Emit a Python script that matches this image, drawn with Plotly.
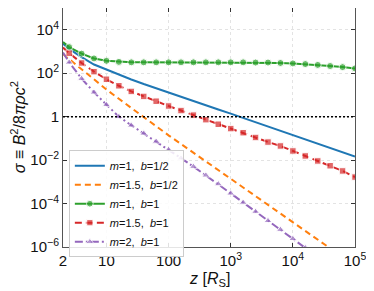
import plotly.graph_objects as go

# exponents (log10) of z in units of R_S
log_z = [0.301, 0.4, 0.6, 0.8, 1.0, 1.2, 1.4, 1.6, 1.8, 2.0, 2.2, 2.4, 2.6, 2.8,
         3.0, 3.2, 3.4, 3.6, 3.8, 4.0, 4.2, 4.4, 4.6, 4.8, 5.0]

# log10(sigma)
m1_b05 = [3.36, 3.12, 2.74, 2.40, 2.17, 1.93, 1.71, 1.50, 1.30, 1.10, 0.91, 0.72, 0.53, 0.33,
          0.14, -0.06, -0.26, -0.45, -0.65, -0.85, -1.05, -1.25, -1.45, -1.64, -1.84]
m15_b05 = [2.88, 2.65, 2.18, 1.70, 1.25, 0.82, 0.39, -0.04, -0.45, -0.86, -1.26, -1.66, -2.06, -2.46,
           -2.86, -3.26, -3.66, -4.06, -4.46, -4.86, -5.26, -5.66, -6.06, -6.46, -6.86]
m1_b1 = [3.44, 3.20, 2.90, 2.68, 2.57, 2.52, 2.50, 2.50, 2.50, 2.50, 2.50, 2.50, 2.50, 2.50,
         2.50, 2.50, 2.49, 2.49, 2.47, 2.45, 2.42, 2.38, 2.33, 2.28, 2.22]
m15_b1 = [3.18, 2.92, 2.47, 2.07, 1.72, 1.42, 1.16, 0.93, 0.71, 0.49, 0.28, 0.07, -0.14, -0.35,
          -0.55, -0.74, -0.96, -1.17, -1.35, -1.58, -1.81, -2.04, -2.26, -2.50, -2.78]
m2_b1 = [2.95, 2.50, 1.75, 1.12, 0.55, 0.00, -0.40, -0.77, -1.14, -1.52, -1.91, -2.30, -2.70, -3.10,
         -3.53, -3.95, -4.37, -4.79, -5.20, -5.62, -6.04, -6.46, -6.88, -7.30, -7.72]

names = ["<i>m</i>=1,  <i>b</i>=1/2", "<i>m</i>=1.5,  <i>b</i>=1/2", "<i>m</i>=1,  <i>b</i>=1",
         "<i>m</i>=1.5,  <i>b</i>=1", "<i>m</i>=2,  <i>b</i>=1"]

x_tickvals = [2, 10, 100, 1e3, 1e4, 1e5]
x_ticktext = ["2", "10", "100", "10<sup>3</sup>", "10<sup>4</sup>", "10<sup>5</sup>"]
y_tickvals = [1e-6, 1e-4, 1e-2, 1, 1e2, 1e4]
y_ticktext = ["10<sup>−6</sup>", "10<sup>−4</sup>", "10<sup>−2</sup>", "1", "10<sup>2</sup>", "10<sup>4</sup>"]

z = [10 ** v for v in log_z]
def tolin(a):
    return [10 ** v for v in a]

FONT = "Liberation Sans Narrow, Arial Narrow, Liberation Sans, sans-serif"

fig = go.Figure()
msize = lambda s: [0] + [s] * (len(log_z) - 1)

fig.add_trace(go.Scatter(x=z, y=tolin(m1_b05), mode="lines", name=names[0],
                         line=dict(color="#1f77b4", width=2)))
fig.add_trace(go.Scatter(x=z, y=tolin(m15_b05), mode="lines", name=names[1],
                         line=dict(color="#ff7f0e", width=2, dash="6px,4px")))
fig.add_trace(go.Scatter(x=z, y=tolin(m1_b1), mode="lines+markers", name=names[2],
                         line=dict(color="#2ca02c", width=2),
                         marker=dict(symbol="circle", size=msize(7), color="#2ca02c")))
fig.add_trace(go.Scatter(x=z, y=tolin(m15_b1), mode="lines+markers", name=names[3],
                         line=dict(color="#d62728", width=2, dash="7px,4px"),
                         marker=dict(symbol="square", size=msize(6.5), color="#d62728")))
fig.add_trace(go.Scatter(x=z, y=tolin(m2_b1), mode="lines+markers", name=names[4],
                         line=dict(color="#9467bd", width=2, dash="8px,3px,2px,3px"),
                         marker=dict(symbol="triangle-up", size=msize(7), color="#9467bd")))

fig.add_shape(type="line", xref="paper", x0=0, x1=1, yref="y", y0=1, y1=1,
              line=dict(color="black", width=1.5, dash="2px,2px"))

axis_common = dict(showline=True, linecolor="#555", linewidth=1, mirror="allticks",
                   ticks="inside", ticklen=4, tickcolor="#333", automargin=False,
                   showgrid=True, gridcolor="#e3e3e3", griddash="dot", gridwidth=1,
                   zeroline=False, tickfont=dict(family=FONT, size=15, color="#111"))

fig.update_xaxes(type="log", range=[0.301, 5], tickvals=x_tickvals, ticktext=x_ticktext,
                 **axis_common)
fig.update_yaxes(type="log", range=[-6, 5], tickvals=y_tickvals, ticktext=y_ticktext,
                 **axis_common)

fig.add_annotation(text="<i>z</i> [<i>R</i><sub>S</sub>]", xref="paper", yref="paper",
                   x=0.5, y=-0.137, xanchor="center", yanchor="middle", showarrow=False,
                   font=dict(family=FONT, size=16, color="#111"))
fig.add_annotation(text="<i>σ</i> ≡ <i>B</i><sup>2</sup>/8<i>πρc</i><sup>2</sup>",
                   xref="paper", yref="paper", x=-0.155, y=0.5, xanchor="center", yanchor="middle",
                   textangle=-90, showarrow=False, font=dict(family=FONT, size=16, color="#111"))

# the page body has an 8px default margin: size the figure to fill the rest of the window
fig.update_layout(
    width=366, height=283,
    margin=dict(l=55, r=19, t=0, b=44, autoexpand=False),
    plot_bgcolor="white", paper_bgcolor="white",
    showlegend=True,
    legend=dict(x=0.02, y=0.405, xanchor="left", yanchor="top",
                bgcolor="rgba(255,255,255,0.85)", bordercolor="#ccc", borderwidth=1,
                font=dict(family=FONT, size=11, color="#111"),
                itemwidth=30, tracegroupgap=0),
)

fig.write_html("out.html")
